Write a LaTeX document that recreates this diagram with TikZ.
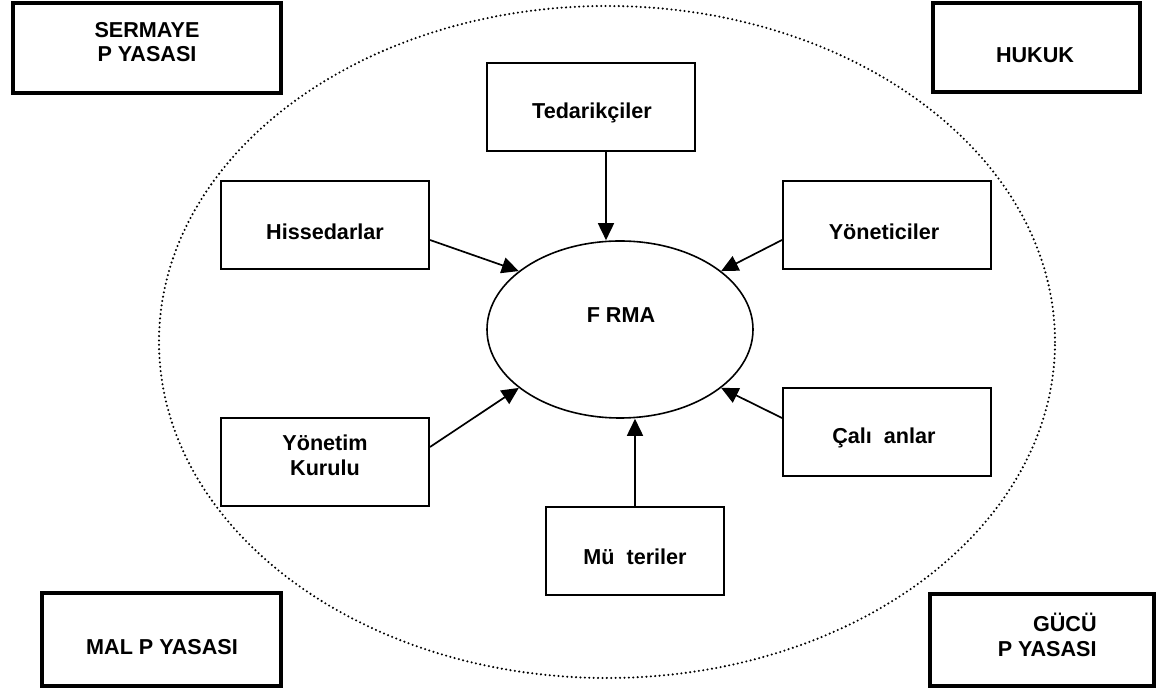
\documentclass[tikz,border=0pt]{standalone}
\usepackage{fontspec}
\setmainfont{Liberation Sans}
\usetikzlibrary{shapes.geometric,arrows.meta}
\tikzset{
  box/.style={draw, line width=1pt, inner sep=0pt, minimum width=104pt, minimum height=44pt},
  bigbox/.style={draw, line width=1.8pt, inner sep=0pt},
  lbl/.style={font=\fontsize{10.8}{12.4}\selectfont\bfseries, align=center, inner sep=0pt},
  arr/.style={-{Triangle[length=8.5pt,width=8pt]}, line width=0.85pt},
  outer/.style={draw, ellipse, line width=1.15pt, line cap=round, dash pattern=on 0pt off 2.2pt, inner sep=0pt},
  core/.style={draw, ellipse, line width=0.8pt, inner sep=0pt}
}
\begin{document}
\begin{tikzpicture}[x=0.5pt, y=-0.5pt]
\useasboundingbox (0,0) rectangle (1158,688);
% outer dotted ellipse
\node[outer, minimum width=448pt, minimum height=336pt] (env) at (607,342) {};
% corner boxes
\node[bigbox, minimum width=134pt, minimum height=45pt] (serm) at (147,48) {};
\node[lbl] (sermT) at (147,42) {SERMAYE\\P YASASI};
\node[bigbox, minimum width=103.5pt, minimum height=44.5pt] (huk) at (1036.5,47.5) {};
\node[lbl] (hukT) at (1035,55) {HUKUK};
\node[bigbox, minimum width=119.5pt, minimum height=46.5pt] (mal) at (161.5,639.5) {};
\node[lbl] (malT) at (162,647) {MAL P YASASI};
\node[bigbox, minimum width=112pt, minimum height=46pt] (guc) at (1042,640) {};
\node[lbl, align=right, anchor=east] (gucT) at (1097,634.5) {GÜCÜ\\P YASASI};
% central ellipse
\node[core, minimum width=133pt, minimum height=88.5pt] (firma) at (620,329.5) {};
\node[lbl] (firmaT) at (621,315) {F RMA};
% stakeholder boxes
\node[box] (ted) at (591,107) {};
\node[lbl] (tedT) at (592,113) {Tedarikçiler};
\node[box] (his) at (325,225) {};
\node[lbl] (hisT) at (325,232) {Hissedarlar};
\node[box] (yon) at (887,225) {};
\node[lbl] (yonT) at (884,232) {Yöneticiler};
\node[box] (yk) at (325,462.5) {};
\node[lbl] (ykT) at (325,455.5) {Yönetim\\Kurulu};
\node[box] (cal) at (887,432.5) {};
\node[lbl] (calT) at (884,438) {Çalı~~anlar};
\node[box, minimum width=89pt] (mus) at (635,551) {};
\node[lbl] (musT) at (635,557) {Mü~~teriler};
% arrows
\draw[arr] ([xshift=7.5pt]ted.south) -- ([xshift=7.5pt]ted.south |- firma.north);
\draw[arr] ([yshift=-7.5pt]his.east) -- (firma.150);
\draw[arr] ([yshift=-7.5pt]yon.west) -- (firma.30);
\draw[arr] ([yshift=7.75pt]yk.east) -- (firma.210);
\draw[arr] ([yshift=7.25pt]cal.west) -- (firma.330);
\draw[arr] (mus.north) -- (mus.north |- firma.south);
\end{tikzpicture}
\end{document}
